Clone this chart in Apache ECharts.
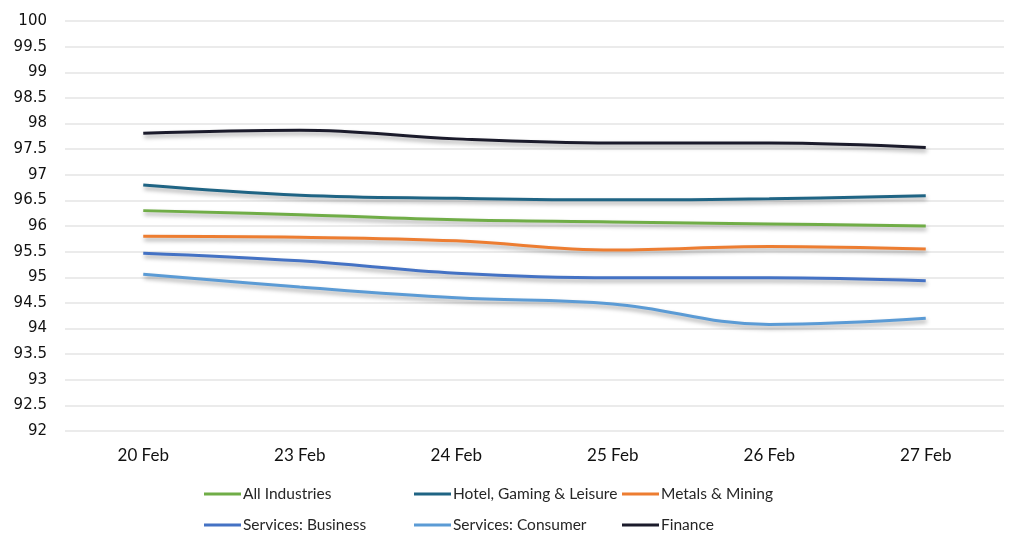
<!DOCTYPE html>
<html>
<head>
<meta charset="utf-8">
<script src="https://cdn.jsdelivr.net/npm/echarts@6/dist/echarts.min.js"></script>
<style>
html,body{margin:0;padding:0;background:#fff;}
#chart{width:1024px;height:549px;}
</style>
</head>
<body>
<div id="chart"></div>
<script>
var categories = ['20 Feb', '23 Feb', '24 Feb', '25 Feb', '26 Feb', '27 Feb'];
var allIndustries = [96.30, 96.22, 96.12, 96.08, 96.04, 96.00];
var hotelGaming = [96.80, 96.60, 96.54, 96.51, 96.53, 96.59];
var metalsMining = [95.80, 95.78, 95.71, 95.53, 95.60, 95.55];
var servicesBusiness = [95.47, 95.32, 95.08, 94.99, 94.99, 94.93];
var servicesConsumer = [95.06, 94.81, 94.60, 94.48, 94.08, 94.20];
var finance = [97.81, 97.87, 97.70, 97.62, 97.62, 97.53];

var seriesNames = ['All Industries', 'Hotel, Gaming & Leisure', 'Metals & Mining', 'Services: Business', 'Services: Consumer', 'Finance'];
var seriesData = [allIndustries, hotelGaming, metalsMining, servicesBusiness, servicesConsumer, finance];
var seriesColors = ['#70ad47', '#1f6484', '#ed7d31', '#4472c4', '#5b9bd5', '#1b1b2b'];

var chart = echarts.init(document.getElementById('chart'));

var legendPos = [
  {left: 204, top: 486}, {left: 414, top: 486}, {left: 622, top: 486},
  {left: 204, top: 517}, {left: 414, top: 517}, {left: 622, top: 517}
];
var legends = seriesNames.map(function (n, i) {
  return {
    data: [n],
    left: legendPos[i].left,
    top: legendPos[i].top,
    icon: 'rect',
    itemWidth: 37,
    itemHeight: 3,
    itemGap: 0,
    padding: 0,
    textStyle: {fontFamily: 'Lato', fontSize: 15.5, color: '#262626', padding: [0, 0, 0, -3]}
  };
});

var series = seriesNames.map(function (n, i) {
  return {
    name: n,
    type: 'line',
    data: seriesData[i],
    smooth: 0.4,
    showSymbol: false,
    symbol: 'none',
    color: seriesColors[i],
    lineStyle: {
      width: 3,
      color: seriesColors[i],
      shadowColor: 'rgba(0,0,0,0.35)',
      shadowBlur: 4,
      shadowOffsetX: 1,
      shadowOffsetY: 3
    },
    z: i === 5 ? 3 : 2
  };
});

chart.setOption({
  animation: false,
  backgroundColor: '#fff',
  grid: {left: 65, right: 20, top: 21, bottom: 118, containLabel: false},
  legend: legends,
  xAxis: {
    type: 'category',
    data: categories,
    boundaryGap: true,
    axisLine: {show: false},
    axisTick: {show: false},
    axisLabel: {fontFamily: 'Lato', fontSize: 17, color: '#111', margin: 16}
  },
  yAxis: {
    type: 'value',
    min: 92,
    max: 100,
    interval: 0.5,
    axisLine: {show: false},
    axisTick: {show: false},
    axisLabel: {fontFamily: 'DejaVu Sans', fontSize: 15, color: '#111', margin: 18},
    splitLine: {lineStyle: {color: '#ebebeb', width: 2}}
  },
  series: series
});
</script>
</body>
</html>
